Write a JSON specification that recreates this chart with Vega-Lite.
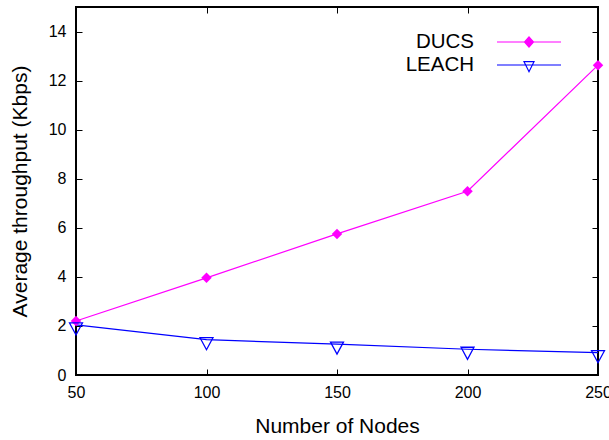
{
  "$schema": "https://vega.github.io/schema/vega-lite/v6.json",
  "width": 522,
  "height": 368,
  "autosize": "none",
  "padding": {"left": 76, "top": 7, "right": 11, "bottom": 65},
  "background": "white",
  "config": {
    "font": "Liberation Sans",
    "view": {"stroke": "black", "strokeWidth": 2},
    "axis": {
      "domain": false,
      "grid": false,
      "tickColor": "black",
      "tickSize": 6,
      "offset": -6,
      "tickWidth": 1,
      "labelFontSize": 16,
      "labelColor": "black",
      "titleFontSize": 21,
      "titleFontWeight": "normal",
      "titleColor": "black"
    }
  },
  "data": {
    "values": [
      {"nodes": 50, "throughput": 2.2, "series": "DUCS"},
      {"nodes": 100, "throughput": 3.96, "series": "DUCS"},
      {"nodes": 150, "throughput": 5.75, "series": "DUCS"},
      {"nodes": 200, "throughput": 7.49, "series": "DUCS"},
      {"nodes": 250, "throughput": 12.63, "series": "DUCS"},
      {"nodes": 50, "throughput": 2.04, "series": "LEACH"},
      {"nodes": 100, "throughput": 1.44, "series": "LEACH"},
      {"nodes": 150, "throughput": 1.26, "series": "LEACH"},
      {"nodes": 200, "throughput": 1.05, "series": "LEACH"},
      {"nodes": 250, "throughput": 0.91, "series": "LEACH"}
    ]
  },
  "resolve": {"axis": {"x": "independent", "y": "independent"}},
  "layer": [
    {
      "mark": {"type": "line", "strokeWidth": 1.2},
      "encoding": {
        "x": {"field": "nodes", "type": "quantitative",
              "scale": {"domain": [50, 250], "nice": false, "zero": false},
              "axis": {"title": "Number of Nodes", "values": [50, 100, 150, 200, 250], "labelPadding": 9, "titlePadding": 15, "labelFlush": false}},
        "y": {"field": "throughput", "type": "quantitative",
              "scale": {"domain": [0, 15], "nice": false},
              "axis": {"title": "Average throughput (Kbps)", "values": [0, 2, 4, 6, 8, 10, 12, 14], "labelPadding": 10, "titlePadding": 18}},
        "color": {"field": "series", "type": "nominal",
                  "scale": {"domain": ["DUCS", "LEACH"], "range": ["#ff00ff", "#0000ff"]}}
      }
    },
    {
      "transform": [{"filter": "datum.series === 'DUCS'"}],
      "mark": {"type": "point", "shape": "diamond", "filled": true, "color": "#ff00ff", "size": 110, "opacity": 1},
      "encoding": {
        "x": {"field": "nodes", "type": "quantitative", "axis": null},
        "y": {"field": "throughput", "type": "quantitative", "axis": null}
      }
    },
    {
      "transform": [{"filter": "datum.series === 'LEACH'"}],
      "mark": {"type": "point", "shape": "M-1.08,-0.33L1.08,-0.33L0,1.67Z", "filled": false, "color": "#0000ff", "strokeWidth": 1.3, "size": 144, "opacity": 1},
      "encoding": {
        "x": {"field": "nodes", "type": "quantitative", "axis": null},
        "y": {"field": "throughput", "type": "quantitative", "axis": null}
      }
    },
    {
      "transform": [{"filter": "datum.nodes < 0"}],
      "mark": {"type": "point", "strokeWidth": 1.2, "opacity": 1},
      "encoding": {
        "x": {"field": "nodes", "type": "quantitative", "axis": null},
        "y": {"field": "throughput", "type": "quantitative", "axis": null},
        "color": {"field": "series", "type": "nominal",
                  "scale": {"domain": ["DUCS", "LEACH"], "range": ["#ff00ff", "#0000ff"]},
                  "legend": {
                    "title": null,
                    "orient": "none",
                    "legendX": 442,
                    "legendY": 24,
                    "padding": 0,
                    "labelFontSize": 20.5,
                    "labelColor": "black",
                    "labelAlign": "right",
                    "labelOffset": -66,
                    "symbolSize": 400,
                    "symbolStrokeWidth": 1.2,
                    "rowPadding": 1
                  }},
        "shape": {"field": "series", "type": "nominal",
                  "scale": {"domain": ["DUCS", "LEACH"], "range": ["M-3.2,0H3.2M0,-0.5L0.45,0L0,0.5L-0.45,0Z", "M-3.2,0H3.2M-0.5,-0.33L0.5,-0.33L0,0.67Z"]}},
        "fill": {"field": "series", "type": "nominal",
                 "scale": {"domain": ["DUCS", "LEACH"], "range": ["#ff00ff", "transparent"]}}
      }
    },
    {
      "mark": {"type": "point", "opacity": 0},
      "encoding": {
        "x": {"field": "nodes", "type": "quantitative",
              "axis": {"orient": "top", "title": null, "labels": false, "values": [50, 100, 150, 200, 250]}},
        "y": {"field": "throughput", "type": "quantitative",
              "axis": {"orient": "right", "title": null, "labels": false, "values": [0, 2, 4, 6, 8, 10, 12, 14]}}
      }
    }
  ]
}
